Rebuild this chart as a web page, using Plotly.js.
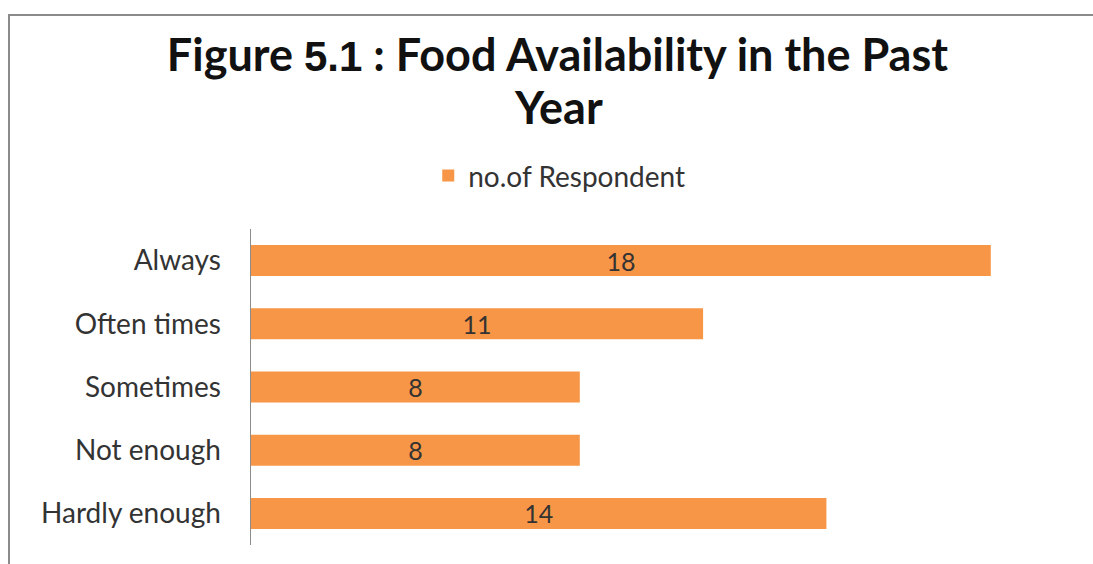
<!DOCTYPE html>
<html><head><meta charset="utf-8">
<script src="https://cdn.plot.ly/plotly-3.0.1.min.js"></script>
<style>
body{margin:0;padding:0;background:#fff;}
#wrap{position:relative;width:1093px;height:564px;}
#chart{position:absolute;left:0;top:0;width:1093px;height:564px;}
#frame{position:absolute;left:8px;top:14px;right:-2px;bottom:-2px;border-top:2px solid #8a8a8a;border-left:2px solid #8a8a8a;pointer-events:none;}
</style></head>
<body>
<div id="wrap"><div id="chart"></div><div id="frame"></div></div>
<script>
var categories = ["Always", "Often times", "Sometimes", "Not enough", "Hardly enough"];
var respondents = [18, 11, 8, 8, 14];
var seriesName = "no.of Respondent";
var titleLine1 = "<b>Figure </b><span style=\"font-family:'Liberation Sans',Arial,sans-serif;font-weight:bold;font-size:42px\">5.1</span><b> : Food Availability in the Past</b>";
var titleLine2 = "<b>Year</b>";

var trace = {
  type: "bar",
  orientation: "h",
  y: categories,
  x: respondents,
  name: seriesName,
  text: respondents.map(String),
  textposition: "inside",
  insidetextanchor: "middle",
  textangle: 0,
  constraintext: "none",
  textfont: {family: "Lato, 'Open Sans', sans-serif", size: 25, color: "#333333"},
  marker: {color: "#F79646"},
  showlegend: true,
  hoverinfo: "x+y"
};

var layout = {
  width: 1093, height: 564,
  paper_bgcolor: "#ffffff", plot_bgcolor: "#ffffff",
  font: {family: "Lato, 'Open Sans', sans-serif", color: "#333333"},
  margin: {l: 251, r: 20, t: 229, b: 19, pad: 0},
  title: {
    text: titleLine1,
    font: {family: "Lato, 'Open Sans', sans-serif", size: 45, color: "#111111"},
    x: 0.51, xanchor: "center", xref: "container",
    y: 0.93, yanchor: "top", yref: "container"
  },
  annotations: [{
    text: titleLine2, showarrow: false,
    xref: "paper", yref: "paper", x: 0.374, y: 1.386, xanchor: "center", yanchor: "middle",
    font: {family: "Lato, 'Open Sans', sans-serif", size: 45, color: "#111111"}
  }],
  showlegend: true,
  legend: {
    orientation: "h", x: 0.375, xanchor: "center", y: 1.168, yanchor: "middle",
    font: {size: 28, color: "#333333"}, itemwidth: 30
  },
  bargap: 0.51,
  xaxis: {range: [0, 20], showgrid: false, zeroline: false, showticklabels: false, showline: false, ticks: ""},
  yaxis: {
    autorange: "reversed", showgrid: false, zeroline: false,
    showline: true, linecolor: "#8c8c8c", linewidth: 1.5, ticks: "",
    ticklabelstandoff: 23,
    tickfont: {size: 28, color: "#333333"}
  }
};

Plotly.newPlot("chart", [trace], layout, {displayModeBar: false, staticPlot: true});
</script>
</body></html>
